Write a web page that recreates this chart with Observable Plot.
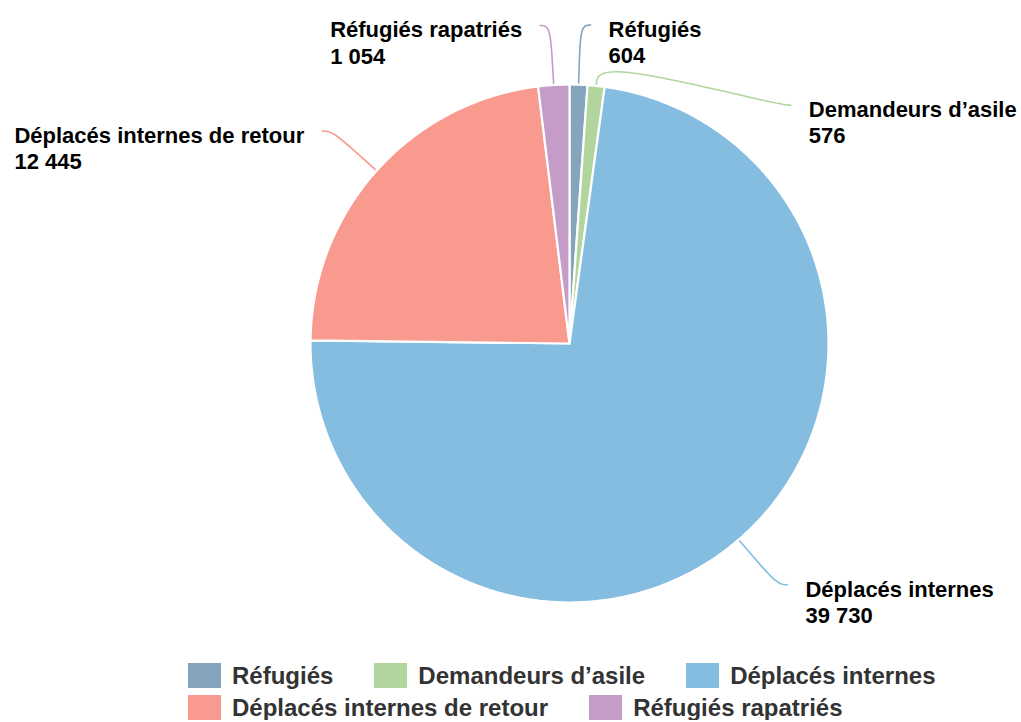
<!DOCTYPE html>
<html>
<head>
<meta charset="utf-8">
<script src="https://cdn.jsdelivr.net/npm/d3@7"></script>
<script src="https://cdn.jsdelivr.net/npm/@observablehq/plot@0.6"></script>
<style>
  html, body { margin: 0; padding: 0; background: #fff; }
  body { font-family: "Liberation Sans", Arial, Helvetica, sans-serif; width: 1021px; }
  #legend { display: flex; flex-wrap: wrap; column-gap: 41px; row-gap: 7px; margin: 13px 0 0 188px; width: 770px; }
  .item { display: flex; align-items: center; font-weight: bold; font-size: 24px; color: #333; line-height: 25px; }
  .sw { width: 33px; height: 25px; margin-right: 11px; flex: none; }
</style>
</head>
<body>
<div id="chart"></div>
<div id="legend"></div>
<script>
// ---- data ----
const categories = ["Réfugiés", "Demandeurs d’asile", "Déplacés internes", "Déplacés internes de retour", "Réfugiés rapatriés"];
const values = [604, 576, 39730, 12445, 1054];
const colors = ["#84a5bd", "#b1d59c", "#84bde0", "#f99a8f", "#c59bc7"];

// ---- layout ----
const W = 1021, H = 650;
const cx = 569, cy = 343, r = 259;
const R = r * 1.23;          // label ring
const minGap = 80;
const labelFont = 22;
const fontStack = "'Liberation Sans', Arial, Helvetica, sans-serif";

const data = categories.map((c, i) => ({cat: c, value: values[i]}));
const arcs = d3.pie().sort(null).value(d => d.value)(data);
const px = (a, rad) => cx + rad * Math.sin(a);
const py = (a, rad) => cy - rad * Math.cos(a);

// slice polygons
const slicePts = [];
for (const a of arcs) {
  slicePts.push({cat: a.data.cat, x: cx, y: cy});
  const n = Math.max(2, Math.ceil((a.endAngle - a.startAngle) / (Math.PI / 360)));
  for (let i = 0; i <= n; i++) {
    const t = a.startAngle + (a.endAngle - a.startAngle) * i / n;
    slicePts.push({cat: a.data.cat, x: px(t, r), y: py(t, r)});
  }
}

const fmt = v => d3.format(",")(v).replace(/,/g, " ");
const labelText = d => `${d.cat}\n${fmt(d.value)}`;
const ctx = document.createElement("canvas").getContext("2d");
ctx.font = `bold ${labelFont}px ${fontStack}`;
const textWidth = d => Math.max(...labelText(d).split("\n").map(s => ctx.measureText(s).width));

// label positions on a ring, pushed apart per side
const labs = arcs.map(a => {
  const m = (a.startAngle + a.endAngle) / 2;
  return {cat: a.data.cat, value: a.data.value, m, side: Math.sin(m) >= 0 ? 1 : -1, ey: py(m, R)};
});
for (const s of [1, -1]) {
  const grp = labs.filter(l => l.side === s).sort((a, b) => a.ey - b.ey);
  let prev = -Infinity;
  for (const l of grp) {
    if (l.ey < prev + minGap) l.ey = prev + minGap;
    prev = l.ey;
  }
}
for (const l of labs) {
  l.ex = cx + l.side * Math.sqrt(Math.max(0, R * R - (l.ey - cy) ** 2));
  l.tx = l.ex + l.side * 10;
  l.lx = l.side > 0 ? l.tx + 18 : l.tx - 18 - textWidth(l);
  l.ly = l.ey - 7;
}
const leaderPts = [];
for (const l of labs) {
  leaderPts.push({cat: l.cat, x: px(l.m, r), y: py(l.m, r)});
  leaderPts.push({cat: l.cat, x: px(l.m, r + 25), y: py(l.m, r + 25)});
  leaderPts.push({cat: l.cat, x: l.ex, y: l.ey});
  leaderPts.push({cat: l.cat, x: l.tx, y: l.ey});
}

const chart = Plot.plot({
  width: W, height: H,
  margin: 0,
  style: {fontFamily: fontStack, background: "#fff"},
  x: {domain: [0, W], range: [0, W], axis: null},
  y: {domain: [0, H], range: [0, H], axis: null},
  color: {domain: categories, range: colors},
  marks: [
    Plot.line(leaderPts, {x: "x", y: "y", z: "cat", stroke: "cat", strokeWidth: 1.6, curve: "basis"}),
    Plot.line(slicePts, {x: "x", y: "y", z: "cat", fill: "cat", stroke: "white", strokeWidth: 2.2, curve: "linear-closed", strokeLinejoin: "miter", strokeMiterlimit: 4}),
    Plot.text(labs, {x: "lx", y: "ly", text: labelText, textAnchor: "start", lineAnchor: "top", lineHeight: 1.2, fontSize: labelFont, fontWeight: "bold", fill: "#000"})
  ]
});
document.getElementById("chart").append(chart);

const leg = document.getElementById("legend");
categories.forEach((c, i) => {
  const it = document.createElement("div");
  it.className = "item";
  const sw = document.createElement("span");
  sw.className = "sw";
  sw.style.background = colors[i];
  it.append(sw, document.createTextNode(c));
  leg.append(it);
});
</script>
</body>
</html>
